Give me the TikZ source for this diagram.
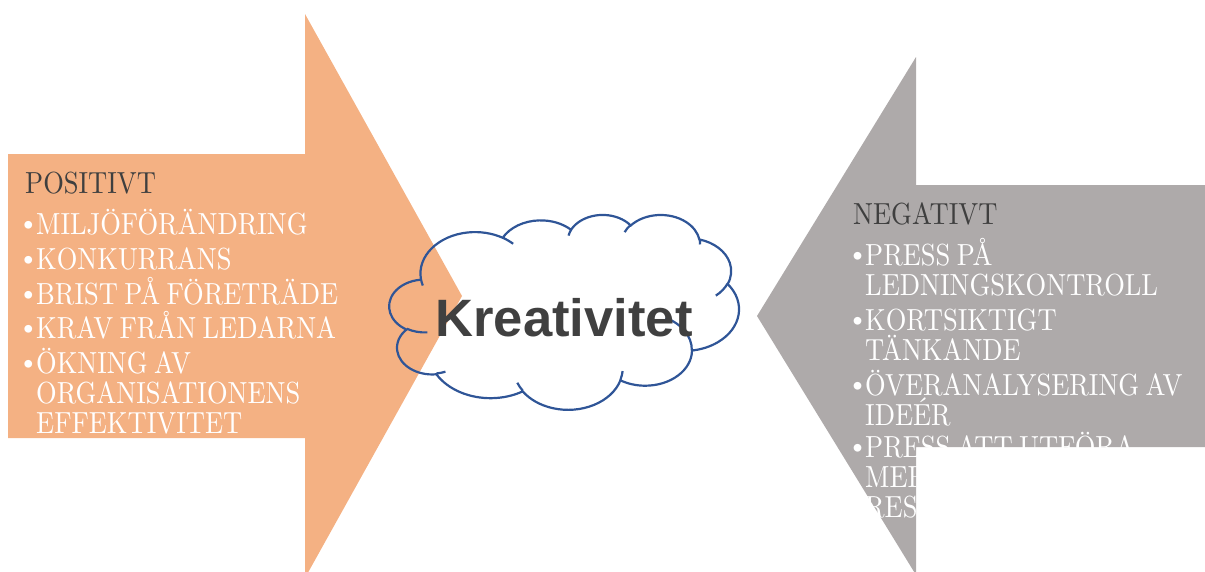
\documentclass[tikz,border=0pt]{standalone}
\usepackage{fontspec}
\usepackage{graphicx}
\setsansfont{Liberation Sans}
\newfontfamily\capfont{lmroman10-regular.otf}

\definecolor{posfill}{HTML}{F4B183}
\definecolor{negfill}{HTML}{AEAAAA}
\definecolor{headtext}{HTML}{3F3F3F}
\definecolor{cloudline}{HTML}{2F5597}
\definecolor{titletext}{HTML}{404040}

% narrow capitals with tight word spacing used for all list texts
\newcommand\narrowcaps[1]{\scalebox{0.87}[1]{\spaceskip=0.24em\relax #1}}

% one elliptical arc of the cloud outline; angles are given as the
% direction of the end points seen from the centre, turned into the
% parameter angles that \pgfpatharc expects
\newcommand\cldarc[4]{%
  \pgfmathsetmacro\cldA{atan2((#1)*sin(#3),(#2)*cos(#3))}%
  \pgfmathsetmacro\cldA{\cldA+360*round(((#3)-\cldA)/360)}%
  \pgfmathsetmacro\cldB{atan2((#1)*sin((#3)+(#4)),(#2)*cos((#3)+(#4)))}%
  \pgfmathsetmacro\cldB{\cldB+360*round(((#3)+(#4)-\cldB)/360)}%
  \pgfpatharc{\cldA}{\cldB}{#1pt and #2pt}}

\tikzset{
  hdr/.style={anchor=base west, inner sep=0pt, text=headtext,
    font=\capfont\fontsize{30.5}{30.5}\selectfont},
  itm/.style={anchor=base west, inner sep=0pt, text=white,
    font=\capfont\fontsize{30.5}{30.5}\selectfont},
  bul/.style={anchor=center, inner sep=0pt, text=white,
    font=\capfont\fontsize{27}{27}\selectfont},
}

\begin{document}
\begin{tikzpicture}[x=1pt, y=1pt, yscale=-1]
\useasboundingbox (0,0) rectangle (1205,571);
\clip (0,0) rectangle (1205,571);

% block arrows
\fill[posfill] (8,154) -- (305,154) -- (305,14) -- (462,296)
  -- (305,578) -- (305,438) -- (8,438) -- cycle;
\fill[negfill] (1215,185) -- (916,185) -- (916,57) -- (757,316)
  -- (916,575) -- (916,447) -- (1215,447) -- cycle;

% positive factors
\node[hdr] (pos) at (25,193) {\narrowcaps{POSITIVT}};
\node[bul] (pb1) at (28.5,226) {•};
\node[itm] (p1) at (36,234) {\narrowcaps{MILJÖFÖRÄNDRING}};
\node[bul] (pb2) at (28.5,261) {•};
\node[itm] (p2) at (36,269) {\narrowcaps{KONKURRANS}};
\node[bul] (pb3) at (28.5,296) {•};
\node[itm] (p3) at (36,304) {\narrowcaps{BRIST PÅ FÖRETRÄDE}};
\node[bul] (pb4) at (28.5,330) {•};
\node[itm] (p4) at (36,338) {\narrowcaps{KRAV FRÅN LEDARNA}};
\node[bul] (pb5) at (28.5,365) {•};
\node[itm] (p5a) at (36,373) {\narrowcaps{ÖKNING AV}};
\node[itm] (p5b) at (36,403) {\narrowcaps{ORGANISATIONENS}};
\node[itm] (p5c) at (36,433) {\narrowcaps{EFFEKTIVITET}};

% negative factors
\node[hdr] (neg) at (853,224) {\narrowcaps{NEGATIVT}};
\node[bul] (nb1) at (857.5,257) {•};
\node[itm] (n1a) at (865,265) {\narrowcaps{PRESS PÅ}};
\node[itm] (n1b) at (865,295) {\narrowcaps{LEDNINGSKONTROLL}};
\node[bul] (nb2) at (857.5,322) {•};
\node[itm] (n2a) at (865,330) {\narrowcaps{KORTSIKTIGT}};
\node[itm] (n2b) at (865,360) {\narrowcaps{TÄNKANDE}};
\node[bul] (nb3) at (857.5,387) {•};
\node[itm] (n3a) at (865,395) {\narrowcaps{ÖVERANALYSERING AV}};
\node[itm] (n3b) at (865,425) {\narrowcaps{IDEÉR}};
\node[bul] (nb4) at (857.5,449) {•};
\node[itm] (n4a) at (865,457) {\narrowcaps{PRESS ATT UTFÖRA}};
\node[itm] (n4b) at (865,487) {\narrowcaps{MER}};
\node[itm] (n4c) at (865,517) {\narrowcaps{RESULTAT}};

% cloud outline with its inner arcs
\begin{scope}[shift={(389.4,214.3)}, xscale=0.809, yscale=0.451]
  \pgfsetlinewidth{2.2pt}
  \pgfsetstrokecolor{cloudline}
  \pgfpathmoveto{\pgfpoint{39pt}{143.7pt}}
  \cldarc{67.53}{91.90}{-190.48748}{123.78053}
  \cldarc{53.33}{72.67}{-144.10238}{89.94523}
  \cldarc{43.65}{59.45}{-145.80792}{99.72302}
  \cldarc{48.57}{65.95}{-130.98607}{117.24173}
  \cldarc{53.33}{72.73}{-78.70888}{109.02692}
  \cldarc{67.75}{92.20}{-46.26725}{130.269}
  \cldarc{57.85}{78.67}{0.62502}{114.03333}
  \cldarc{67.52}{92.15}{22.4516}{115.17255}
  \cldarc{77.20}{105.43}{66.24263}{75.71102}
  \cldarc{43.60}{59.18}{-274.94208}{146.73557}
  \cldarc{43.45}{59.45}{-246.8285}{152.51885}
  \pgfpathclose
  \pgfpathmoveto{\pgfpoint{46.93pt}{261.77pt}}
  \cldarc{43.45}{59.45}{86.742}{26.4295}
  \pgfpathmoveto{\pgfpoint{69.28pt}{348.99pt}}
  \cldarc{43.60}{59.18}{73.61047}{11.44747}
  \pgfpathmoveto{\pgfpoint{164.78pt}{390.90pt}}
  \cldarc{67.52}{92.15}{137.62415}{14.0811}
  \pgfpathmoveto{\pgfpoint{288.27pt}{347.51pt}}
  \cldarc{67.52}{92.15}{6.45327}{15.99835}
  \pgfpathmoveto{\pgfpoint{341.29pt}{229.54pt}}
  \cldarc{57.85}{78.67}{-70.29235}{70.91737}
  \pgfpathmoveto{\pgfpoint{417.98pt}{153.54pt}}
  \cldarc{53.33}{72.73}{30.31803}{27.7515}
  \pgfpathmoveto{\pgfpoint{383.24pt}{54.26pt}}
  \cldarc{48.57}{65.95}{-13.74433}{14.8589}
  \pgfpathmoveto{\pgfpoint{290.78pt}{39.52pt}}
  \cldarc{48.57}{65.95}{-149.18145}{18.19537}
  \pgfpathmoveto{\pgfpoint{221.41pt}{47.20pt}}
  \cldarc{43.65}{59.45}{-163.49427}{17.68635}
  \pgfpathmoveto{\pgfpoint{140.00pt}{51.92pt}}
  \cldarc{67.53}{91.90}{-66.70695}{12.31935}
  \pgfpathmoveto{\pgfpoint{41.27pt}{157.89pt}}
  \cldarc{67.53}{91.90}{157.65435}{11.85817}
  \pgfusepath{stroke}
\end{scope}

% central word
\node[anchor=base, inner sep=0pt, text=titletext,
  font=\sffamily\bfseries\fontsize{52.6}{60}\selectfont]
  (kreativ) at (564,336) {Kreativitet};
\end{tikzpicture}
\end{document}
